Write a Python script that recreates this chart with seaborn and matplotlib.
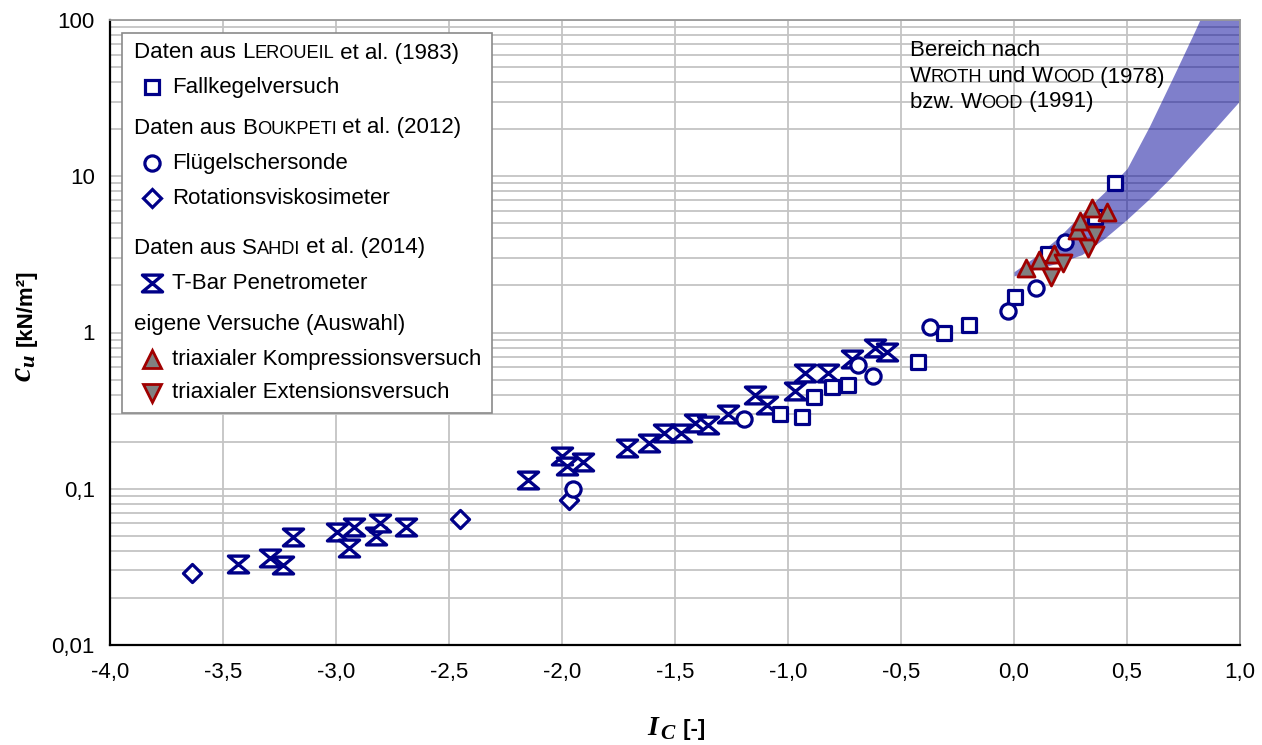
import numpy as np
import matplotlib
matplotlib.use("Agg")
import matplotlib.pyplot as plt
import seaborn as sns
from matplotlib.path import Path
from matplotlib.lines import Line2D
from matplotlib.patches import Rectangle
from matplotlib.offsetbox import TextArea, HPacker, AnchoredOffsetbox
from matplotlib.ticker import FixedLocator, LogLocator, FuncFormatter, NullFormatter

# ---------------------------------------------------------------- data
# Fallkegelversuch (Leroueil et al., 1983)
fall_ic = [-1.035, -0.938, -0.885, -0.805, -0.735, -0.425, -0.31, -0.199, 0.004, 0.150, 0.358, 0.447]
fall_cu = [0.303, 0.29, 0.384, 0.445, 0.458, 0.643, 1.0, 1.11, 1.68, 3.2, 5.45, 9.0]

# Flügelschersonde (Boukpeti et al., 2012)
vane_ic = [-1.951, -1.195, -0.690, -0.624, -0.372, -0.027, 0.097, 0.226]
vane_cu = [0.099, 0.281, 0.62, 0.53, 1.09, 1.38, 1.94, 3.82]

# Rotationsviskosimeter (Boukpeti et al., 2012)
visc_ic = [-3.637, -2.451, -1.969]
visc_cu = [0.0291, 0.0645, 0.0853]

# T-Bar Penetrometer (Sahdi et al., 2014)
tbar_ic = [-3.434, -3.292, -3.235, -3.190, -2.996, -2.942, -2.920, -2.823, -2.805, -2.690,
           -2.150, -2.000, -1.978, -1.907, -1.712, -1.615, -1.549, -1.473, -1.412, -1.354,
           -1.265, -1.146, -1.093, -0.969, -0.925, -0.823, -0.717, -0.615, -0.562]
tbar_cu = [0.0332, 0.0358, 0.0323, 0.0488, 0.0525, 0.042, 0.0573, 0.0495, 0.060, 0.0565,
           0.113, 0.161, 0.139, 0.149, 0.181, 0.195, 0.229, 0.226, 0.262, 0.254,
           0.303, 0.401, 0.346, 0.425, 0.547, 0.547, 0.672, 0.80, 0.745]

# eigene Versuche: triaxiale Kompression / Extension
comp_ic = [0.053, 0.111, 0.177, 0.279, 0.292, 0.345, 0.412]
comp_cu = [2.57, 2.89, 3.2, 4.5, 5.2, 6.3, 5.87]
ext_ic = [0.164, 0.217, 0.327, 0.358]
ext_cu = [2.25, 2.77, 3.45, 4.18]

# Bereich nach Wroth & Wood (1978) bzw. Wood (1991)
band_ic = [0.0, 0.1, 0.2, 0.3, 0.4, 0.5, 0.6, 0.7, 0.8, 0.9, 1.0]
band_upper = [2.45, 3.1, 4.1, 5.75, 7.9, 11.2, 21.0, 42.0, 85.0, 178.0, 400.0]
band_lower = [2.3, 2.55, 2.8, 3.15, 4.0, 5.3, 7.2, 10.0, 14.5, 21.0, 30.5]

x_ticks = [-4.0, -3.5, -3.0, -2.5, -2.0, -1.5, -1.0, -0.5, 0.0, 0.5, 1.0]
y_ticks = [0.01, 0.1, 1, 10, 100]

# ---------------------------------------------------------------- style
sns.set_theme(style="white")
plt.rcParams["font.family"] = ["Liberation Sans", "DejaVu Sans"]
plt.rcParams["mathtext.fontset"] = "custom"
plt.rcParams["mathtext.it"] = "Liberation Serif:italic:bold"
plt.rcParams["mathtext.rm"] = "Liberation Serif:bold"
plt.rcParams["mathtext.bf"] = "Liberation Serif:bold"

NAVY = "#000088"
RED = "#A00000"
GREY_FILL = "#808080"
GRID = "#c4c4c4"
FS = 16
TICK_FS = 16

W, H = 1262, 745
fig = plt.figure(figsize=(W / 100, H / 100), dpi=100)
fig.patch.set_facecolor("white")
ax = fig.add_axes([110 / W, 1 - 645 / H, 1130 / W, 625 / H])


def fx(px):
    return px / W


def fy(py):
    return 1 - py / H


hourglass = Path(
    [(-1.2, 1.0), (1.2, 1.0), (-1.2, -1.0), (1.2, -1.0), (-1.2, 1.0)],
    [Path.MOVETO, Path.LINETO, Path.LINETO, Path.LINETO, Path.CLOSEPOLY],
)

# marker styles: (marker, area in pt^2, face, edge, edge width)
ST_FALL = ("s", 95, "white", NAVY, 2.3)
ST_VANE = ("o", 120, "white", NAVY, 2.3)
ST_VISC = ("D", 85, "white", NAVY, 2.3)
ST_TBAR = (hourglass, 210, "white", NAVY, 2.4)
ST_COMP = ("^", 150, GREY_FILL, RED, 2.0)
ST_EXT = ("v", 150, GREY_FILL, RED, 2.0)

series = [
    (tbar_ic, tbar_cu, ST_TBAR, 4),
    (visc_ic, visc_cu, ST_VISC, 5),
    (fall_ic, fall_cu, ST_FALL, 6),
    (vane_ic, vane_cu, ST_VANE, 7),
    (comp_ic, comp_cu, ST_COMP, 8),
    (ext_ic, ext_cu, ST_EXT, 9),
]

# band first, so it lies under the markers but over the grid
ax.fill_between(band_ic, band_lower, band_upper, color="#000099", alpha=0.5,
                linewidth=0, zorder=2)

for xs, ys, (mk, s, face, edge, lw), z in series:
    sns.scatterplot(x=xs, y=ys, ax=ax, marker=mk, s=s, color=face,
                    edgecolor=edge, linewidth=lw, zorder=z, legend=False)

# ---------------------------------------------------------------- axes
ax.set_yscale("log")
ax.set_xlim(-4.0, 1.0)
ax.set_ylim(0.01, 100)

ax.xaxis.set_major_locator(FixedLocator(x_ticks))
ax.xaxis.set_major_formatter(FuncFormatter(
    lambda v, p: ("%.1f" % (0.0 if abs(v) < 1e-9 else v)).replace(".", ",")))
ax.yaxis.set_major_locator(FixedLocator(y_ticks))
ax.yaxis.set_major_formatter(FuncFormatter(lambda v, p: ("%g" % v).replace(".", ",")))
ax.yaxis.set_minor_locator(LogLocator(base=10, subs=np.arange(2, 10)))
ax.yaxis.set_minor_formatter(NullFormatter())

ax.set_axisbelow(True)
ax.grid(True, which="major", axis="both", color=GRID, linewidth=1.3)
ax.grid(True, which="minor", axis="y", color=GRID, linewidth=1.3)

ax.tick_params(axis="both", which="major", direction="out", length=5, width=1.5,
               color="black", labelsize=TICK_FS, labelcolor="black")
ax.tick_params(axis="x", which="major", pad=7)
ax.tick_params(axis="y", which="major", pad=6)
ax.tick_params(axis="y", which="minor", length=0)

for side in ("left", "bottom"):
    ax.spines[side].set_color("black")
    ax.spines[side].set_linewidth(1.6)
for side in ("top", "right"):
    ax.spines[side].set_color("#9a9a9a")
    ax.spines[side].set_linewidth(1.3)

ax.set_xlabel("")
ax.set_ylabel("")


# ---------------------------------------------------------------- text helpers
def pieces(text, size=FS, ratio=0.82):
    """Split text into (string, size) runs; words in braces get small caps."""
    out = []
    rest = text
    while rest:
        if "{" in rest:
            pre, tail = rest.split("{", 1)
            word, rest = tail.split("}", 1)
            if pre:
                out.append((pre, size))
            out.append((word[0], size))
            out.append((word[1:].upper(), size * ratio))
        else:
            out.append((rest, size))
            rest = ""
    return out


def text_row(runs, x_px, y_px, loc="center left", weight="normal"):
    boxes = [TextArea(s, textprops=dict(size=sz, color="black", weight=weight))
             for s, sz in runs]
    hp = HPacker(children=boxes, align="baseline", pad=0, sep=0)
    box = AnchoredOffsetbox(loc=loc, child=hp, pad=0, borderpad=0, frameon=False,
                            bbox_to_anchor=(fx(x_px), fy(y_px)),
                            bbox_transform=fig.transFigure)
    box.set_zorder(21)
    fig.add_artist(box)
    return box


# ---------------------------------------------------------------- legend
frame = Rectangle((fx(122), fy(413)), fx(492) - fx(122), fy(33) - fy(413),
                  transform=fig.transFigure, facecolor="white", edgecolor="#8a8a8a",
                  linewidth=1.2, zorder=20)
fig.add_artist(frame)

headers = [
    ("Daten aus {Leroueil} et al. (1983)", 53),
    ("Daten aus {Boukpeti} et al. (2012)", 128),
    ("Daten aus {Sahdi} et al. (2014)", 248),
    ("eigene Versuche (Auswahl)", 325),
]
for txt, y in headers:
    text_row(pieces(txt), 134, y)

entries = [
    (ST_FALL, "Fallkegelversuch", 87),
    (ST_VANE, "Flügelschersonde", 163),
    (ST_VISC, "Rotationsviskosimeter", 198),
    (ST_TBAR, "T-Bar Penetrometer", 283),
    (ST_COMP, "triaxialer Kompressionsversuch", 359),
    (ST_EXT, "triaxialer Extensionsversuch", 393),
]
for (mk, s, face, edge, lw), label, y in entries:
    handle = Line2D([fx(152)], [fy(y)], transform=fig.transFigure, linestyle="none",
                    marker=mk, markersize=np.sqrt(s), markerfacecolor=face,
                    markeredgecolor=edge, markeredgewidth=lw, zorder=22)
    fig.add_artist(handle)
    text_row([(label, FS)], 172, y)

# ---------------------------------------------------------------- band note
text_row(pieces("Bereich nach"), 910, 51)
text_row(pieces("{Wroth} und {Wood} (1978)"), 910, 77)
text_row(pieces("bzw. {Wood} (1991)"), 910, 102)

# ---------------------------------------------------------------- axis titles
xl = HPacker(children=[
    TextArea(r"$I$", textprops=dict(size=20, color="black")),
    TextArea(r"$_C$", textprops=dict(size=22, color="black")),
    TextArea(" [-]", textprops=dict(size=16, weight="bold", color="black")),
], align="baseline", pad=0, sep=0)
xbox = AnchoredOffsetbox(loc="center", child=xl, pad=0, borderpad=0, frameon=False,
                         bbox_to_anchor=(fx(676), fy(727)), bbox_transform=fig.transFigure)
fig.add_artist(xbox)

fig.text(fx(32), fy(354), r"$c_u$", rotation=90, rotation_mode="anchor",
         ha="right", va="baseline", fontsize=23, color="black")
fig.text(fx(32), fy(346), "[kN/m²]", rotation=90, rotation_mode="anchor",
         ha="left", va="baseline", fontsize=16, fontweight="bold", color="black")

fig.savefig("out.png", dpi=100, facecolor="white")
